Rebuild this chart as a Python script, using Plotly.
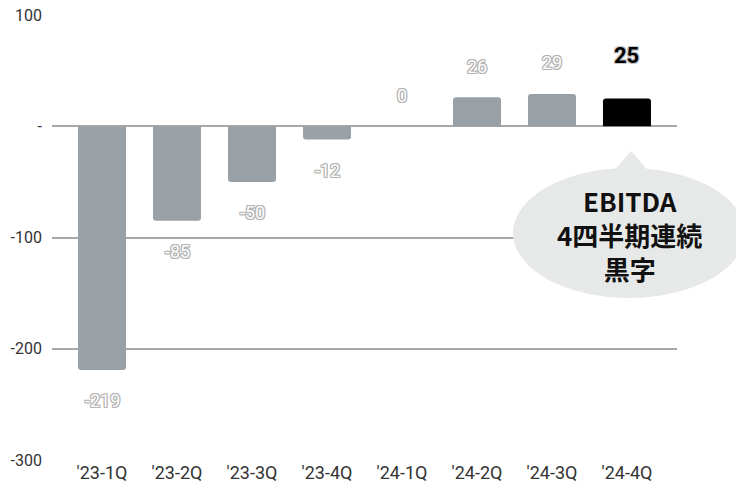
import plotly.graph_objects as go

quarters = ["'23-1Q", "'23-2Q", "'23-3Q", "'23-4Q", "'24-1Q", "'24-2Q", "'24-3Q", "'24-4Q"]
ebitda = [-219, -85, -50, -12, 0, 26, 29, 25]
bar_colors = ["#9aa1a6"] * 7 + ["#000000"]

y_ticks = [100, 0, -100, -200, -300]
y_tick_text = ["100", "-", "-100", "-200", "-300"]

callout_lines = ["EBITDA", "4四半期連続", "黒字"]

W, H = 736, 490
ML, MR, MT, MB = 52, 59, 15, 30
PW, PH = W - ML - MR, H - MT - MB


def px(x):
    return (x - ML) / PW


def py(y):
    return (H - MB - y) / PH


fig = go.Figure(
    go.Bar(
        x=quarters,
        y=ebitda,
        marker=dict(color=bar_colors, cornerradius=3, line=dict(width=0)),
        width=0.64,
        hoverinfo="skip",
    )
)


def ring(color, r=1):
    offs = [(-r, -r), (r, -r), (-r, r), (r, r), (0, r), (0, -r), (r, 0), (-r, 0)]
    return ", ".join(f"{dx}px {dy}px 0 {color}" for dx, dy in offs)


outline = ring("#b4b4b4")
outline_dark = ring("#c8c8c8")

annotations = []
for i, (q, v) in enumerate(zip(quarters, ebitda)):
    last = i == len(quarters) - 1
    if last:
        annotations.append(dict(
            x=q, y=v, xref="x", yref="y", text=f"<b>{v}</b>", showarrow=False,
            yshift=43, font=dict(family="Roboto", size=22, color="#000000",
                                 shadow=outline_dark)))
    else:
        annotations.append(dict(
            x=q, y=v, xref="x", yref="y", text=str(v), showarrow=False,
            yshift=31 if v >= 0 else -31,
            font=dict(family="Roboto", size=18, color="#fbfbfb", shadow=outline)))

# speech-bubble callout
annotations.append(dict(
    x=px(629), y=py(234), xref="paper", yref="paper",
    xanchor="center", yanchor="middle",
    text="<b>" + "<br>".join(callout_lines) + "</b>", showarrow=False,
    font=dict(family="Noto Sans CJK JP", size=26, color="#111111"),
    align="center"))

bubble_fill = "#e7e9e9"
shapes = [
    dict(type="circle", xref="paper", yref="paper",
         x0=px(513), x1=px(745), y0=py(298), y1=py(168),
         fillcolor=bubble_fill, line=dict(width=0), layer="above"),
    dict(type="path", xref="paper", yref="paper",
         path=(f"M {px(604)} {py(182)} L {px(631)} {py(151)} "
               f"L {px(658)} {py(182)} Z"),
         fillcolor=bubble_fill, line=dict(width=0), layer="above"),
]

fig.update_layout(
    width=W, height=H,
    margin=dict(l=ML, r=MR, t=MT, b=MB, pad=0),
    paper_bgcolor="white", plot_bgcolor="white",
    showlegend=False,
    annotations=annotations,
    shapes=shapes,
    xaxis=dict(
        range=[-0.667, 7.667], showgrid=False, zeroline=False, showline=False,
        ticks="", tickfont=dict(family="Roboto", size=18, color="#333333"),
        fixedrange=True, automargin=False,
    ),
    yaxis=dict(
        range=[-300, 100], tickvals=y_ticks, ticktext=y_tick_text,
        showgrid=True, gridcolor="#a8a8a8", gridwidth=2, zeroline=False,
        showline=False, ticks="", ticklabelstandoff=9,
        tickfont=dict(family="Roboto", size=16, color="#333333"),
        fixedrange=True, automargin=False,
    ),
)

fig.write_html("out.html", config={"displayModeBar": False})
